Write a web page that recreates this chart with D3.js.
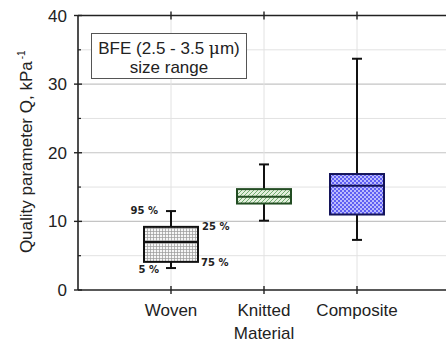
<!DOCTYPE html>
<html>
<head>
<meta charset="utf-8">
<script src="https://cdn.jsdelivr.net/npm/d3@7"></script>
<style>
  body { margin: 0; background: #fff; }
  svg text { font-family: "Liberation Sans", Arial, sans-serif; fill: #222; }
  .pct { font-family: "DejaVu Sans", sans-serif; font-weight: bold; font-size: 10px; }
</style>
</head>
<body>
<svg id="chart" width="446" height="343"></svg>
<script>
// box plot values
var categories = ['Woven', 'Knitted', 'Composite'];
var whiskerLow = [3.2, 10.1, 7.3];
var boxLow = [4.1, 12.6, 11.0];
var medians = [7.0, 13.6, 15.2];
var boxHigh = [9.2, 14.7, 16.9];
var whiskerHigh = [11.5, 18.3, 33.7];
var yMajorTicks = [0, 10, 20, 30, 40];
var yMinorTicks = [5, 15, 25, 35];
var pctLabels = ['95 %', '25 %', '75 %', '5 %'];

var svg = d3.select('#chart');
var m = { left: 78, top: 15.5, bottom: 53 };
var H = 343;
var fs = 17;

var x = d3.scaleLinear().domain([0, 4]).range([m.left, m.left + 4 * 93]);
var y = d3.scaleLinear().domain([0, 40]).range([H - m.bottom, m.top]);

var defs = svg.append('defs');
// woven: grey grid
var p1 = defs.append('pattern').attr('id', 'pWoven').attr('patternUnits', 'userSpaceOnUse')
  .attr('width', 3).attr('height', 3);
p1.append('rect').attr('width', 3).attr('height', 3).attr('fill', '#f6f6f6');
p1.append('path').attr('d', 'M0,0.5H3M0.5,0V3').attr('stroke', '#9a9a9a').attr('stroke-width', 0.7);
// knitted: green diagonals
var p2 = defs.append('pattern').attr('id', 'pKnit').attr('patternUnits', 'userSpaceOnUse')
  .attr('width', 4).attr('height', 4);
p2.append('rect').attr('width', 4).attr('height', 4).attr('fill', '#e4f1de');
p2.append('path').attr('d', 'M-1,1L1,-1M0,4L4,0M3,5L5,3').attr('stroke', '#73ad73').attr('stroke-width', 1);
// composite: blue checker
var p3 = defs.append('pattern').attr('id', 'pComp').attr('patternUnits', 'userSpaceOnUse')
  .attr('width', 4).attr('height', 4);
p3.append('rect').attr('width', 4).attr('height', 4).attr('fill', '#5f5ff2');
p3.append('rect').attr('width', 2).attr('height', 2).attr('fill', '#bcbcfd');
p3.append('rect').attr('x', 2).attr('y', 2).attr('width', 2).attr('height', 2).attr('fill', '#bcbcfd');

var fills = ['url(#pWoven)', 'url(#pKnit)', 'url(#pComp)'];
var strokes = ['#111', '#234d23', '#14145a'];

// grid
svg.append('g').selectAll('line').data(yMinorTicks).enter().append('line')
  .attr('x1', x(0)).attr('x2', 446).attr('y1', d => y(d)).attr('y2', d => y(d))
  .attr('stroke', '#e2e2e2').attr('stroke-width', 1);
svg.append('g').selectAll('line').data([10, 20, 30]).enter().append('line')
  .attr('x1', x(0)).attr('x2', 446).attr('y1', d => y(d)).attr('y2', d => y(d))
  .attr('stroke', '#c4c4c4').attr('stroke-width', 1.2);
svg.append('g').selectAll('line').data(categories).enter().append('line')
  .attr('x1', (d, i) => x(i + 1)).attr('x2', (d, i) => x(i + 1))
  .attr('y1', y(0)).attr('y2', y(40))
  .attr('stroke', '#e2e2e2').attr('stroke-width', 1);

// axes
var axisCol = '#222';
svg.append('line').attr('x1', x(0)).attr('x2', 446).attr('y1', y(0)).attr('y2', y(0))
  .attr('stroke', axisCol).attr('stroke-width', 1.6);
svg.append('line').attr('x1', x(0)).attr('x2', 446).attr('y1', y(40)).attr('y2', y(40))
  .attr('stroke', axisCol).attr('stroke-width', 1.6);
svg.append('line').attr('x1', x(0)).attr('x2', x(0)).attr('y1', y(0)).attr('y2', y(40))
  .attr('stroke', axisCol).attr('stroke-width', 1.6);

// y ticks
svg.append('g').selectAll('line').data(yMajorTicks).enter().append('line')
  .attr('x1', x(0) - 4).attr('x2', x(0) + 4).attr('y1', d => y(d)).attr('y2', d => y(d))
  .attr('stroke', axisCol).attr('stroke-width', 1.4);
svg.append('g').selectAll('line').data(yMinorTicks).enter().append('line')
  .attr('x1', x(0)).attr('x2', x(0) + 3).attr('y1', d => y(d)).attr('y2', d => y(d))
  .attr('stroke', axisCol).attr('stroke-width', 1.2);
svg.append('g').selectAll('text').data(yMajorTicks).enter().append('text')
  .attr('x', x(0) - 11).attr('y', d => y(d) + 6)
  .attr('text-anchor', 'end').attr('font-size', fs).text(d => d);

// x ticks (bottom and top)
[y(0), y(40)].forEach(function (yy) {
  svg.append('g').selectAll('line').data(categories).enter().append('line')
    .attr('x1', (d, i) => x(i + 1)).attr('x2', (d, i) => x(i + 1))
    .attr('y1', yy - 4).attr('y2', yy + 4)
    .attr('stroke', axisCol).attr('stroke-width', 1.4);
});
svg.append('g').selectAll('text').data(categories).enter().append('text')
  .attr('x', (d, i) => x(i + 1)).attr('y', 316)
  .attr('text-anchor', 'middle').attr('font-size', fs).text(d => d);

svg.append('text').attr('x', x(2)).attr('y', 338.5)
  .attr('text-anchor', 'middle').attr('font-size', fs).text('Material');

var yt = svg.append('text').attr('transform', 'translate(32,' + (y(20) - 1) + ') rotate(-90)')
  .attr('text-anchor', 'middle').attr('font-size', fs);
yt.append('tspan').text('Quality parameter Q, kPa');
yt.append('tspan').attr('dx', 2).attr('dy', -7).attr('font-size', 10).text('-1');

// boxes
var bw = 54, cap = 10;
categories.forEach(function (c, i) {
  var cx = x(i + 1);
  var g = svg.append('g');
  g.append('line').attr('x1', cx).attr('x2', cx).attr('y1', y(whiskerLow[i])).attr('y2', y(boxLow[i]))
    .attr('stroke', '#111').attr('stroke-width', 2);
  g.append('line').attr('x1', cx).attr('x2', cx).attr('y1', y(whiskerHigh[i])).attr('y2', y(boxHigh[i]))
    .attr('stroke', '#111').attr('stroke-width', 2);
  [whiskerLow[i], whiskerHigh[i]].forEach(function (v) {
    g.append('line').attr('x1', cx - cap / 2).attr('x2', cx + cap / 2).attr('y1', y(v)).attr('y2', y(v))
      .attr('stroke', '#111').attr('stroke-width', 2);
  });
  g.append('rect').attr('x', cx - bw / 2).attr('y', y(boxHigh[i]))
    .attr('width', bw).attr('height', y(boxLow[i]) - y(boxHigh[i]))
    .attr('fill', fills[i]).attr('stroke', strokes[i]).attr('stroke-width', 2);
  g.append('line').attr('x1', cx - bw / 2).attr('x2', cx + bw / 2)
    .attr('y1', y(medians[i])).attr('y2', y(medians[i]))
    .attr('stroke', strokes[i]).attr('stroke-width', 2);
});

// percentile notes on the woven box
var wx = x(1);
svg.append('text').attr('class', 'pct').attr('x', wx - 13).attr('y', y(whiskerHigh[0]) + 3)
  .attr('text-anchor', 'end').text(pctLabels[0]);
svg.append('text').attr('class', 'pct').attr('x', wx + bw / 2 + 4).attr('y', y(boxHigh[0]) + 3)
  .text(pctLabels[1]);
svg.append('text').attr('class', 'pct').attr('x', wx + bw / 2 + 3).attr('y', y(boxLow[0]) + 4)
  .text(pctLabels[2]);
svg.append('text').attr('class', 'pct').attr('x', wx - 12).attr('y', y(whiskerLow[0]) + 5)
  .attr('text-anchor', 'end').text(pctLabels[3]);

// legend box
svg.append('rect').attr('x', 91.5).attr('y', 33.5).attr('width', 155).attr('height', 45)
  .attr('fill', '#fff').attr('stroke', '#555').attr('stroke-width', 1);
var lt = svg.append('text').attr('x', 169).attr('y', 53.5).attr('text-anchor', 'middle').attr('font-size', fs);
lt.append('tspan').text('BFE (2.5 - 3.5 ');
lt.append('tspan').attr('font-family', 'Symbol, "DejaVu Serif", serif').text('μ');
lt.append('tspan').text('m)');
svg.append('text').attr('x', 169).attr('y', 72.5).attr('text-anchor', 'middle').attr('font-size', fs)
  .text('size range');
</script>
</body>
</html>
